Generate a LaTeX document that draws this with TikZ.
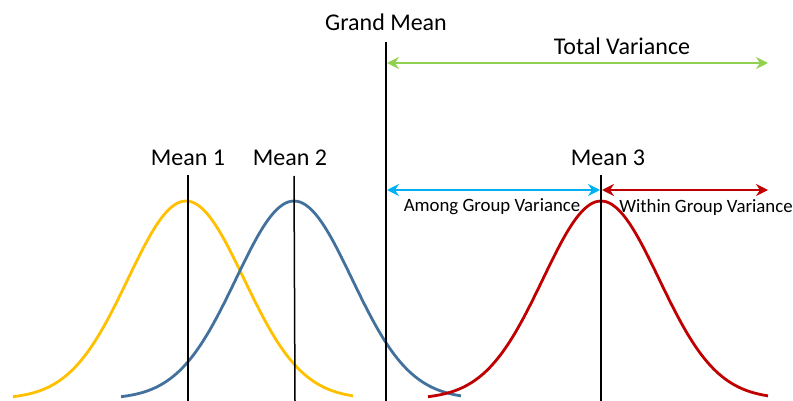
\documentclass[tikz,border=0pt]{standalone}
\usepackage{fontspec}
\setmainfont{Carlito}
\usetikzlibrary{arrows.meta,positioning}
\definecolor{gold}{HTML}{FFC000}
\definecolor{steel}{HTML}{41719C}
\definecolor{crimson}{HTML}{C00000}
\definecolor{lime}{HTML}{92D050}
\definecolor{sky}{HTML}{00B0F0}
\tikzset{lbl/.style={font=\fontsize{24}{28}\selectfont,inner sep=0pt},small/.style={font=\fontsize{18.8}{22}\selectfont,inner sep=0pt},meanline/.style={draw=black,line width=1.5pt},varr/.style={{Stealth[length=12pt,width=12pt,inset=4pt]}-{Stealth[length=12pt,width=12pt,inset=4pt]},line width=2.6pt},bell/.style={line width=2.8pt,smooth,samples=60}}

\begin{document}
\begin{tikzpicture}[x=1pt,y=-1pt]
\useasboundingbox (0,0) rectangle (793,401);
% curves
\draw[bell,gold] plot[domain=-173:167] ({186+\x},{399-198*exp(-0.5*(\x/58)*(\x/58))});
\draw[bell,steel] plot[domain=-173:167] ({294+\x},{399-198*exp(-0.5*(\x/58)*(\x/58))});
\draw[bell,crimson] plot[domain=-173:167] ({601+\x},{399-198*exp(-0.5*(\x/58)*(\x/58))});
% mean lines
\coordinate (m1t) at (188,175);\coordinate (m1b) at (188,401);
\coordinate (m2t) at (294,176);\coordinate (m2b) at (295,401);
\coordinate (m3t) at (601,175);\coordinate (m3b) at (601,401);
\coordinate (gmt) at (386,42);\coordinate (gmb) at (386,401);
\draw[meanline](m1t)--(m1b);\draw[meanline](m2t)--(m2b);\draw[meanline](m3t)--(m3b);
\draw[line width=2.8pt](gmt)--(gmb);
\node[lbl] (gm) at (386,22){Grand Mean};
\node[lbl] (n1) at (188,158){Mean 1};\node[lbl] (n2) at (290,158){Mean 2};\node[lbl] (n3) at (608,158){Mean 3};
% variance arrows
\coordinate (tvl) at (387,63);\coordinate (tvr) at (768,63);
\coordinate (agl) at (387,190);\coordinate (agr) at (600,190);
\coordinate (wgl) at (602,190);\coordinate (wgr) at (768,190);
\draw[varr,lime](tvl)--(tvr);\draw[varr,sky](agl)--(agr);\draw[varr,crimson](wgl)--(wgr);
\node[lbl] (tv) at (622,46){Total Variance};
\node[small] (ag) at (492,207){Among Group Variance};\node[small] (wg) at (706,207){Within Group Variance};
\end{tikzpicture}
\end{document}
